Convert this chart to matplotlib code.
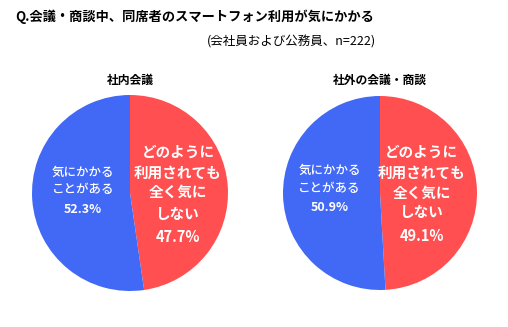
import matplotlib
matplotlib.use("Agg")
import matplotlib.pyplot as plt

plt.rcParams['font.family'] = ['Noto Sans CJK JP', 'DejaVu Sans']

title = "Q.会議・商談中、同席者のスマートフォン利用が気にかかる"
subtitle = "(会社員および公務員、n=222)"
pie_titles = ["社内会議", "社外の会議・商談"]
categories = ["どのように\n利用されても\n全く気に\nしない", "気にかかる\nことがある"]
values_internal = [47.7, 52.3]
values_external = [49.1, 50.9]
colors = ["#FF4F50", "#4169F5"]

W, H = 508, 327
fig = plt.figure(figsize=(W / 100, H / 100), dpi=100)
fig.patch.set_facecolor("white")

fig.text(15 / W, 1 - 17 / H, title, fontsize=9.5, fontweight="bold", va="center", ha="left")
fig.text(376 / W, 1 - 42 / H, subtitle, fontsize=9, va="center", ha="right")

centers = [(130, 193, 98), (380, 193, 97)]
data = [values_internal, values_external]
label_pos = [
    ((-0.48, [0.21, 0.04, -0.17]), (0.49, [0.42, 0.21, 0.01, -0.21, -0.45])),
    ((-0.52, [0.23, 0.05, -0.15]), (0.43, [0.43, 0.21, 0.0, -0.20, -0.44])),
]
title_y = 80

for i, (cx, cy, r) in enumerate(centers):
    ax = fig.add_axes([(cx - r) / W, 1 - (cy + r) / H, 2 * r / W, 2 * r / H])
    vals = data[i]
    ax.pie(vals, colors=colors, startangle=90, counterclock=False, radius=1,
           wedgeprops=dict(linewidth=0))
    ax.set_xlim(-1, 1)
    ax.set_ylim(-1, 1)
    ax.set_aspect("auto")
    ax.axis("off")
    fig.text(cx / W, 1 - title_y / H, pie_titles[i], fontsize=8.5, fontweight="bold",
             ha="center", va="center")
    (bx, bys), (rx, rys) = label_pos[i]
    blines = categories[1].split("\n") + [f"{vals[1]:.1f}%"]
    for j, (txt, y) in enumerate(zip(blines, bys)):
        ax.text(bx, y, txt, color="white", fontsize=9,
                fontweight="bold" if j == len(blines) - 1 else "medium",
                ha="center", va="center")
    rlines = categories[0].split("\n") + [f"{vals[0]:.1f}%"]
    for txt, y in zip(rlines, rys):
        ax.text(rx, y, txt, color="white", fontsize=10.5, fontweight="bold",
                ha="center", va="center")

fig.savefig("out.png", dpi=100, facecolor="white")
